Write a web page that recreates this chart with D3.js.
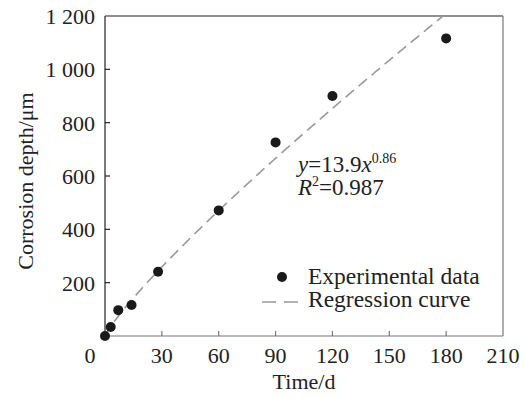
<!DOCTYPE html>
<html>
<head>
<meta charset="utf-8">
<script src="https://cdn.jsdelivr.net/npm/d3@7.9.0/dist/d3.min.js"></script>
<style>
  body { margin: 0; background: #fff; }
  svg text { font-family: "Liberation Serif", "Times New Roman", serif; fill: #222; }
</style>
</head>
<body>
<svg width="525" height="398"></svg>
<script>
// measured data
const days = [0, 3, 7, 14, 28, 60, 90, 120, 180];
const depth = [0, 34, 97, 116, 241, 471, 726, 900, 1116];

// regression y = a * x^b (from the figure)
const fitA = 13.9;
const fitB = 0.86;

const xTicks = [30, 60, 90, 120, 150, 180, 210];
const yTicks = [200, 400, 600, 800, 1000, 1200];

const svg = d3.select('svg');
const pLeft = 105, pRight = 503, pTop = 16, pBottom = 336;

const x = d3.scaleLinear().domain([0, 210]).range([pLeft, pRight]);
const y = d3.scaleLinear().domain([0, 1200]).range([pBottom, pTop]);

// frame
svg.append('line').attr('x1', pLeft).attr('x2', pRight).attr('y1', pTop).attr('y2', pTop)
  .attr('stroke', '#222').attr('stroke-width', 1.2);
svg.append('line').attr('x1', pLeft).attr('x2', pLeft).attr('y1', pTop).attr('y2', pBottom)
  .attr('stroke', '#222').attr('stroke-width', 1.2);
svg.append('line').attr('x1', pRight).attr('x2', pRight).attr('y1', pTop).attr('y2', pBottom)
  .attr('stroke', '#777').attr('stroke-width', 1.2);
svg.append('line').attr('x1', pLeft).attr('x2', pRight).attr('y1', pBottom).attr('y2', pBottom)
  .attr('stroke', '#777').attr('stroke-width', 1.2);

// y ticks (inward)
const fmt = (v) => v >= 1000 ? String(v).replace(/(\d)(\d{3})$/, '$1 $2') : String(v);
yTicks.forEach((t) => {
  if (t < 1200) {
    svg.append('line').attr('x1', pLeft).attr('x2', pLeft + 5)
      .attr('y1', y(t)).attr('y2', y(t)).attr('stroke', '#222').attr('stroke-width', 1.2);
  }
  svg.append('text').attr('x', pLeft - 10).attr('y', y(t) + 8)
    .attr('text-anchor', 'end').attr('font-size', 22).text(fmt(t));
});

// x ticks (inward)
xTicks.forEach((t) => {
  if (t < 210) {
    svg.append('line').attr('x1', x(t)).attr('x2', x(t))
      .attr('y1', pBottom).attr('y2', pBottom - 5).attr('stroke', '#777').attr('stroke-width', 1.2);
  }
  svg.append('text').attr('x', x(t)).attr('y', pBottom + 27)
    .attr('text-anchor', 'middle').attr('font-size', 22).text(t);
});
svg.append('text').attr('x', pLeft - 15).attr('y', pBottom + 27)
  .attr('text-anchor', 'middle').attr('font-size', 22).text('0');

// axis titles
svg.append('text').attr('x', x(105)).attr('y', 389)
  .attr('text-anchor', 'middle').attr('font-size', 22).text('Time/d');
svg.append('text').attr('transform', `translate(33,${(pTop + pBottom) / 2 + 5}) rotate(-90)`)
  .attr('text-anchor', 'middle').attr('font-size', 22).text('Corrosion depth/μm');

// regression curve, clipped to plot area
svg.append('clipPath').attr('id', 'plot')
  .append('rect').attr('x', pLeft).attr('y', pTop).attr('width', pRight - pLeft).attr('height', pBottom - pTop);
const curve = d3.range(0, 210.5, 0.5).map((d) => [d, fitA * Math.pow(d, fitB)]);
svg.append('path')
  .attr('d', d3.line().x((d) => x(d[0])).y((d) => y(d[1]))(curve))
  .attr('fill', 'none').attr('stroke', '#999').attr('stroke-width', 1.6)
  .attr('stroke-dasharray', '11,6').attr('clip-path', 'url(#plot)');

// points
svg.selectAll('circle.pt').data(days).join('circle').attr('class', 'pt')
  .attr('cx', (d) => x(d)).attr('cy', (d, i) => y(depth[i])).attr('r', 5).attr('fill', '#1a1a1a');

// annotation
const ann = svg.append('text').attr('x', 298).attr('y', 172).attr('font-size', 23);
ann.append('tspan').attr('font-style', 'italic').text('y');
ann.append('tspan').text('=13.9');
ann.append('tspan').attr('font-style', 'italic').text('x');
ann.append('tspan').attr('font-size', 14).attr('dy', -9).text('0.86');
const r2 = svg.append('text').attr('x', 298).attr('y', 195).attr('font-size', 23);
r2.append('tspan').attr('font-style', 'italic').text('R');
r2.append('tspan').attr('font-size', 14).attr('dy', -9).text('2');
r2.append('tspan').attr('dy', 9).text('=0.987');

// legend
svg.append('circle').attr('cx', 282).attr('cy', 277).attr('r', 5).attr('fill', '#1a1a1a');
svg.append('text').attr('x', 308).attr('y', 284).attr('font-size', 23.5).text('Experimental data');
svg.append('line').attr('x1', 262).attr('x2', 298).attr('y1', 302).attr('y2', 302)
  .attr('stroke', '#999').attr('stroke-width', 1.6).attr('stroke-dasharray', '14,8');
svg.append('text').attr('x', 308).attr('y', 307).attr('font-size', 23.5).text('Regression curve');
</script>
</body>
</html>
